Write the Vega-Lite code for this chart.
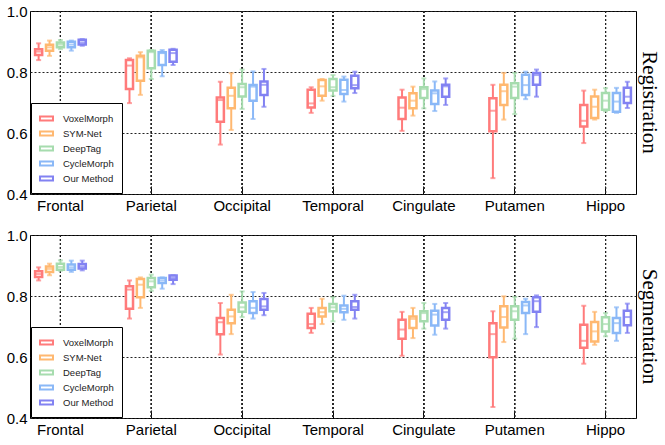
{
  "$schema": "https://vega.github.io/schema/vega-lite/v6.json",
  "padding": {"left": 5, "top": 3, "right": 2, "bottom": 3},
  "spacing": 13,
  "datasets": {
    "reg": [
      {"r": "Frontal", "m": "VoxelMorph", "lo": 0.839, "q1": 0.856, "md": 0.867, "q3": 0.875, "hi": 0.894},
      {"r": "Frontal", "m": "SYM-Net", "lo": 0.853, "q1": 0.870, "md": 0.881, "q3": 0.889, "hi": 0.903},
      {"r": "Frontal", "m": "DeepTag", "lo": 0.875, "q1": 0.881, "md": 0.890, "q3": 0.897, "hi": 0.905},
      {"r": "Frontal", "m": "CycleMorph", "lo": 0.870, "q1": 0.881, "md": 0.890, "q3": 0.899, "hi": 0.903},
      {"r": "Frontal", "m": "Our Method", "lo": 0.886, "q1": 0.890, "md": 0.897, "q3": 0.906, "hi": 0.908},
      {"r": "Parietal", "m": "VoxelMorph", "lo": 0.698, "q1": 0.744, "md": 0.821, "q3": 0.839, "hi": 0.845},
      {"r": "Parietal", "m": "SYM-Net", "lo": 0.725, "q1": 0.771, "md": 0.848, "q3": 0.853, "hi": 0.865},
      {"r": "Parietal", "m": "DeepTag", "lo": 0.777, "q1": 0.812, "md": 0.865, "q3": 0.870, "hi": 0.872},
      {"r": "Parietal", "m": "CycleMorph", "lo": 0.786, "q1": 0.823, "md": 0.862, "q3": 0.865, "hi": 0.872},
      {"r": "Parietal", "m": "Our Method", "lo": 0.823, "q1": 0.834, "md": 0.862, "q3": 0.873, "hi": 0.876},
      {"r": "Occipital", "m": "VoxelMorph", "lo": 0.562, "q1": 0.637, "md": 0.708, "q3": 0.716, "hi": 0.768},
      {"r": "Occipital", "m": "SYM-Net", "lo": 0.610, "q1": 0.681, "md": 0.722, "q3": 0.748, "hi": 0.796},
      {"r": "Occipital", "m": "DeepTag", "lo": 0.679, "q1": 0.720, "md": 0.750, "q3": 0.761, "hi": 0.808},
      {"r": "Occipital", "m": "CycleMorph", "lo": 0.646, "q1": 0.706, "md": 0.752, "q3": 0.757, "hi": 0.802},
      {"r": "Occipital", "m": "Our Method", "lo": 0.686, "q1": 0.725, "md": 0.758, "q3": 0.769, "hi": 0.810},
      {"r": "Temporal", "m": "VoxelMorph", "lo": 0.666, "q1": 0.684, "md": 0.697, "q3": 0.742, "hi": 0.750},
      {"r": "Temporal", "m": "SYM-Net", "lo": 0.706, "q1": 0.722, "md": 0.753, "q3": 0.774, "hi": 0.777},
      {"r": "Temporal", "m": "DeepTag", "lo": 0.722, "q1": 0.739, "md": 0.750, "q3": 0.777, "hi": 0.790},
      {"r": "Temporal", "m": "CycleMorph", "lo": 0.703, "q1": 0.728, "md": 0.741, "q3": 0.775, "hi": 0.785},
      {"r": "Temporal", "m": "Our Method", "lo": 0.731, "q1": 0.747, "md": 0.757, "q3": 0.788, "hi": 0.801},
      {"r": "Cingulate", "m": "VoxelMorph", "lo": 0.607, "q1": 0.646, "md": 0.683, "q3": 0.716, "hi": 0.742},
      {"r": "Cingulate", "m": "SYM-Net", "lo": 0.657, "q1": 0.681, "md": 0.706, "q3": 0.730, "hi": 0.752},
      {"r": "Cingulate", "m": "DeepTag", "lo": 0.681, "q1": 0.715, "md": 0.744, "q3": 0.750, "hi": 0.779},
      {"r": "Cingulate", "m": "CycleMorph", "lo": 0.672, "q1": 0.695, "md": 0.730, "q3": 0.739, "hi": 0.769},
      {"r": "Cingulate", "m": "Our Method", "lo": 0.692, "q1": 0.719, "md": 0.753, "q3": 0.758, "hi": 0.779},
      {"r": "Putamen", "m": "VoxelMorph", "lo": 0.452, "q1": 0.606, "md": 0.673, "q3": 0.714, "hi": 0.758},
      {"r": "Putamen", "m": "SYM-Net", "lo": 0.644, "q1": 0.692, "md": 0.737, "q3": 0.758, "hi": 0.797},
      {"r": "Putamen", "m": "DeepTag", "lo": 0.662, "q1": 0.715, "md": 0.752, "q3": 0.763, "hi": 0.797},
      {"r": "Putamen", "m": "CycleMorph", "lo": 0.711, "q1": 0.725, "md": 0.757, "q3": 0.791, "hi": 0.801},
      {"r": "Putamen", "m": "Our Method", "lo": 0.719, "q1": 0.758, "md": 0.790, "q3": 0.797, "hi": 0.808},
      {"r": "Hippo", "m": "VoxelMorph", "lo": 0.567, "q1": 0.621, "md": 0.640, "q3": 0.692, "hi": 0.739},
      {"r": "Hippo", "m": "SYM-Net", "lo": 0.644, "q1": 0.649, "md": 0.686, "q3": 0.720, "hi": 0.742},
      {"r": "Hippo", "m": "DeepTag", "lo": 0.671, "q1": 0.676, "md": 0.706, "q3": 0.731, "hi": 0.747},
      {"r": "Hippo", "m": "CycleMorph", "lo": 0.666, "q1": 0.670, "md": 0.703, "q3": 0.731, "hi": 0.748},
      {"r": "Hippo", "m": "Our Method", "lo": 0.682, "q1": 0.698, "md": 0.719, "q3": 0.748, "hi": 0.768}
    ],
    "seg": [
      {"r": "Frontal", "m": "VoxelMorph", "lo": 0.851, "q1": 0.862, "md": 0.872, "q3": 0.881, "hi": 0.894},
      {"r": "Frontal", "m": "SYM-Net", "lo": 0.868, "q1": 0.879, "md": 0.889, "q3": 0.897, "hi": 0.906},
      {"r": "Frontal", "m": "DeepTag", "lo": 0.883, "q1": 0.886, "md": 0.895, "q3": 0.906, "hi": 0.917},
      {"r": "Frontal", "m": "CycleMorph", "lo": 0.879, "q1": 0.886, "md": 0.894, "q3": 0.903, "hi": 0.916},
      {"r": "Frontal", "m": "Our Method", "lo": 0.884, "q1": 0.890, "md": 0.897, "q3": 0.905, "hi": 0.916},
      {"r": "Parietal", "m": "VoxelMorph", "lo": 0.726, "q1": 0.758, "md": 0.821, "q3": 0.832, "hi": 0.851},
      {"r": "Parietal", "m": "SYM-Net", "lo": 0.761, "q1": 0.796, "md": 0.837, "q3": 0.856, "hi": 0.861},
      {"r": "Parietal", "m": "DeepTag", "lo": 0.817, "q1": 0.829, "md": 0.848, "q3": 0.859, "hi": 0.870},
      {"r": "Parietal", "m": "CycleMorph", "lo": 0.824, "q1": 0.843, "md": 0.851, "q3": 0.859, "hi": 0.861},
      {"r": "Parietal", "m": "Our Method", "lo": 0.839, "q1": 0.853, "md": 0.859, "q3": 0.867, "hi": 0.868},
      {"r": "Occipital", "m": "VoxelMorph", "lo": 0.608, "q1": 0.675, "md": 0.714, "q3": 0.728, "hi": 0.777},
      {"r": "Occipital", "m": "SYM-Net", "lo": 0.675, "q1": 0.711, "md": 0.733, "q3": 0.755, "hi": 0.804},
      {"r": "Occipital", "m": "DeepTag", "lo": 0.731, "q1": 0.748, "md": 0.763, "q3": 0.779, "hi": 0.815},
      {"r": "Occipital", "m": "CycleMorph", "lo": 0.726, "q1": 0.744, "md": 0.761, "q3": 0.783, "hi": 0.813},
      {"r": "Occipital", "m": "Our Method", "lo": 0.737, "q1": 0.755, "md": 0.766, "q3": 0.790, "hi": 0.810},
      {"r": "Temporal", "m": "VoxelMorph", "lo": 0.679, "q1": 0.695, "md": 0.708, "q3": 0.742, "hi": 0.761},
      {"r": "Temporal", "m": "SYM-Net", "lo": 0.708, "q1": 0.733, "md": 0.747, "q3": 0.761, "hi": 0.791},
      {"r": "Temporal", "m": "DeepTag", "lo": 0.717, "q1": 0.750, "md": 0.763, "q3": 0.774, "hi": 0.796},
      {"r": "Temporal", "m": "CycleMorph", "lo": 0.722, "q1": 0.747, "md": 0.758, "q3": 0.769, "hi": 0.801},
      {"r": "Temporal", "m": "Our Method", "lo": 0.726, "q1": 0.755, "md": 0.764, "q3": 0.783, "hi": 0.804},
      {"r": "Cingulate", "m": "VoxelMorph", "lo": 0.604, "q1": 0.660, "md": 0.690, "q3": 0.722, "hi": 0.748},
      {"r": "Cingulate", "m": "SYM-Net", "lo": 0.662, "q1": 0.695, "md": 0.725, "q3": 0.733, "hi": 0.761},
      {"r": "Cingulate", "m": "DeepTag", "lo": 0.693, "q1": 0.717, "md": 0.744, "q3": 0.750, "hi": 0.777},
      {"r": "Cingulate", "m": "CycleMorph", "lo": 0.673, "q1": 0.703, "md": 0.739, "q3": 0.752, "hi": 0.774},
      {"r": "Cingulate", "m": "Our Method", "lo": 0.693, "q1": 0.722, "md": 0.747, "q3": 0.761, "hi": 0.777},
      {"r": "Putamen", "m": "VoxelMorph", "lo": 0.436, "q1": 0.599, "md": 0.675, "q3": 0.711, "hi": 0.750},
      {"r": "Putamen", "m": "SYM-Net", "lo": 0.649, "q1": 0.697, "md": 0.731, "q3": 0.766, "hi": 0.799},
      {"r": "Putamen", "m": "DeepTag", "lo": 0.660, "q1": 0.722, "md": 0.750, "q3": 0.766, "hi": 0.797},
      {"r": "Putamen", "m": "CycleMorph", "lo": 0.675, "q1": 0.744, "md": 0.769, "q3": 0.780, "hi": 0.791},
      {"r": "Putamen", "m": "Our Method", "lo": 0.698, "q1": 0.748, "md": 0.783, "q3": 0.796, "hi": 0.802},
      {"r": "Hippo", "m": "VoxelMorph", "lo": 0.578, "q1": 0.630, "md": 0.653, "q3": 0.706, "hi": 0.768},
      {"r": "Hippo", "m": "SYM-Net", "lo": 0.640, "q1": 0.651, "md": 0.684, "q3": 0.715, "hi": 0.748},
      {"r": "Hippo", "m": "DeepTag", "lo": 0.668, "q1": 0.684, "md": 0.708, "q3": 0.730, "hi": 0.744},
      {"r": "Hippo", "m": "CycleMorph", "lo": 0.653, "q1": 0.679, "md": 0.711, "q3": 0.728, "hi": 0.763},
      {"r": "Hippo", "m": "Our Method", "lo": 0.679, "q1": 0.704, "md": 0.731, "q3": 0.752, "hi": 0.775}
    ]
  },
  "vconcat": [
    {
      "data": {"name": "reg"},
      "width": 606,
      "height": 183,
      "title": {"text": "Registration", "orient": "right", "offset": 3},
      "encoding": {
        "x": {
          "field": "r", "type": "nominal", "title": null,
          "sort": ["Frontal", "Parietal", "Occipital", "Temporal", "Cingulate", "Putamen", "Hippo"],
          "scale": {"paddingInner": 0.4, "paddingOuter": 0.035}
        }
      },
      "layer": [
        {
          "mark": {"type": "rule", "strokeDash": [2, 2], "strokeWidth": 1, "color": "#222"},
          "encoding": {}
        },
        {
          "mark": {"type": "rule", "strokeWidth": 2},
          "encoding": {
            "xOffset": {"field": "m", "type": "nominal", "sort": ["VoxelMorph", "SYM-Net", "DeepTag", "CycleMorph", "Our Method"], "scale": {"paddingInner": 0.35, "paddingOuter": 0.175}},
            "y": {"field": "lo", "type": "quantitative", "title": null, "scale": {"domain": [0.4, 1.0]}, "axis": {"values": [0.4, 0.6, 0.8, 1.0]}},
            "y2": {"field": "hi"},
            "stroke": {"field": "m", "sort": ["VoxelMorph", "SYM-Net", "DeepTag", "CycleMorph", "Our Method"], "scale": {"domain": ["VoxelMorph", "SYM-Net", "DeepTag", "CycleMorph", "Our Method"], "range": ["#ff7b7b", "#ffb870", "#a6dcae", "#8ab8f7", "#8282f2"]}}
          }
        },
        {
          "mark": {"type": "bar", "fill": "white", "strokeWidth": 2.5},
          "encoding": {
            "xOffset": {"field": "m", "type": "nominal", "sort": ["VoxelMorph", "SYM-Net", "DeepTag", "CycleMorph", "Our Method"]},
            "y": {"field": "q1", "type": "quantitative", "title": null, "axis": {"values": [0.4, 0.6, 0.8, 1.0]}},
            "y2": {"field": "q3"},
            "stroke": {"field": "m", "sort": ["VoxelMorph", "SYM-Net", "DeepTag", "CycleMorph", "Our Method"]}
          }
        },
        {
          "mark": {"type": "tick", "size": 7, "thickness": 2},
          "encoding": {
            "xOffset": {"field": "m", "type": "nominal", "sort": ["VoxelMorph", "SYM-Net", "DeepTag", "CycleMorph", "Our Method"]},
            "y": {"field": "md", "type": "quantitative", "title": null, "axis": {"values": [0.4, 0.6, 0.8, 1.0]}},
            "color": {"field": "m", "legend": null, "scale": {"domain": ["VoxelMorph", "SYM-Net", "DeepTag", "CycleMorph", "Our Method"], "range": ["#ff7b7b", "#ffb870", "#a6dcae", "#8ab8f7", "#8282f2"]}}
          }
        },
        {
          "mark": {"type": "tick", "size": 5, "thickness": 2},
          "encoding": {
            "xOffset": {"field": "m", "type": "nominal", "sort": ["VoxelMorph", "SYM-Net", "DeepTag", "CycleMorph", "Our Method"]},
            "y": {"field": "lo", "type": "quantitative", "title": null, "axis": {"values": [0.4, 0.6, 0.8, 1.0]}},
            "color": {"field": "m", "legend": null}
          }
        },
        {
          "mark": {"type": "tick", "size": 5, "thickness": 2},
          "encoding": {
            "xOffset": {"field": "m", "type": "nominal", "sort": ["VoxelMorph", "SYM-Net", "DeepTag", "CycleMorph", "Our Method"]},
            "y": {"field": "hi", "type": "quantitative", "title": null, "axis": {"values": [0.4, 0.6, 0.8, 1.0]}},
            "color": {"field": "m", "legend": null}
          }
        }
      ]
    },
    {
      "data": {"name": "seg"},
      "width": 606,
      "height": 183,
      "title": {"text": "Segmentation", "orient": "right", "offset": 3},
      "encoding": {
        "x": {
          "field": "r", "type": "nominal", "title": null,
          "sort": ["Frontal", "Parietal", "Occipital", "Temporal", "Cingulate", "Putamen", "Hippo"],
          "scale": {"paddingInner": 0.4, "paddingOuter": 0.035}
        }
      },
      "layer": [
        {
          "mark": {"type": "rule", "strokeDash": [2, 2], "strokeWidth": 1, "color": "#222"},
          "encoding": {}
        },
        {
          "mark": {"type": "rule", "strokeWidth": 2},
          "encoding": {
            "xOffset": {"field": "m", "type": "nominal", "sort": ["VoxelMorph", "SYM-Net", "DeepTag", "CycleMorph", "Our Method"], "scale": {"paddingInner": 0.35, "paddingOuter": 0.175}},
            "y": {"field": "lo", "type": "quantitative", "title": null, "scale": {"domain": [0.4, 1.0]}, "axis": {"values": [0.4, 0.6, 0.8, 1.0]}},
            "y2": {"field": "hi"},
            "stroke": {"field": "m", "sort": ["VoxelMorph", "SYM-Net", "DeepTag", "CycleMorph", "Our Method"], "scale": {"domain": ["VoxelMorph", "SYM-Net", "DeepTag", "CycleMorph", "Our Method"], "range": ["#ff7b7b", "#ffb870", "#a6dcae", "#8ab8f7", "#8282f2"]}}
          }
        },
        {
          "mark": {"type": "bar", "fill": "white", "strokeWidth": 2.5},
          "encoding": {
            "xOffset": {"field": "m", "type": "nominal", "sort": ["VoxelMorph", "SYM-Net", "DeepTag", "CycleMorph", "Our Method"]},
            "y": {"field": "q1", "type": "quantitative", "title": null, "axis": {"values": [0.4, 0.6, 0.8, 1.0]}},
            "y2": {"field": "q3"},
            "stroke": {"field": "m", "sort": ["VoxelMorph", "SYM-Net", "DeepTag", "CycleMorph", "Our Method"]}
          }
        },
        {
          "mark": {"type": "tick", "size": 7, "thickness": 2},
          "encoding": {
            "xOffset": {"field": "m", "type": "nominal", "sort": ["VoxelMorph", "SYM-Net", "DeepTag", "CycleMorph", "Our Method"]},
            "y": {"field": "md", "type": "quantitative", "title": null, "axis": {"values": [0.4, 0.6, 0.8, 1.0]}},
            "color": {"field": "m", "legend": null, "scale": {"domain": ["VoxelMorph", "SYM-Net", "DeepTag", "CycleMorph", "Our Method"], "range": ["#ff7b7b", "#ffb870", "#a6dcae", "#8ab8f7", "#8282f2"]}}
          }
        },
        {
          "mark": {"type": "tick", "size": 5, "thickness": 2},
          "encoding": {
            "xOffset": {"field": "m", "type": "nominal", "sort": ["VoxelMorph", "SYM-Net", "DeepTag", "CycleMorph", "Our Method"]},
            "y": {"field": "lo", "type": "quantitative", "title": null, "axis": {"values": [0.4, 0.6, 0.8, 1.0]}},
            "color": {"field": "m", "legend": null}
          }
        },
        {
          "mark": {"type": "tick", "size": 5, "thickness": 2},
          "encoding": {
            "xOffset": {"field": "m", "type": "nominal", "sort": ["VoxelMorph", "SYM-Net", "DeepTag", "CycleMorph", "Our Method"]},
            "y": {"field": "hi", "type": "quantitative", "title": null, "axis": {"values": [0.4, 0.6, 0.8, 1.0]}},
            "color": {"field": "m", "legend": null}
          }
        }
      ]
    }
  ],
  "resolve": {"legend": {"stroke": "independent"}, "scale": {"x": "independent", "y": "independent"}},
  "config": {
    "font": "Liberation Sans",
    "view": {"stroke": "black", "strokeWidth": 1},
    "title": {"font": "Liberation Serif", "fontSize": 21, "fontWeight": "normal", "color": "black", "anchor": "middle"},
    "axis": {
      "labelFont": "Liberation Sans",
      "labelFontSize": 15,
      "labelColor": "black",
      "domain": false,
      "ticks": false,
      "gridColor": "#222",
      "gridDash": [2, 2],
      "gridWidth": 1,
      "gridOpacity": 1
    },
    "axisX": {"labelAngle": 0, "labelPadding": 12, "grid": false, "ticks": true, "tickSize": -8, "tickColor": "black", "tickWidth": 1},
    "axisY": {"format": ".1f", "labelPadding": 3, "grid": true},
    "legend": {
      "orient": "bottom-left",
      "offset": 1,
      "title": null,
      "symbolType": "M-1,-0.3H1V0.3H-1Z",
      "symbolSize": 169,
      "symbolFillColor": "white",
      "symbolStrokeWidth": 2,
      "labelFont": "Liberation Sans",
      "labelFontSize": 9.5,
      "labelColor": "#222",
      "labelOffset": 9,
      "rowPadding": 1,
      "padding": 8,
      "strokeColor": "black",
      "fillColor": "white",
      "cornerRadius": 0
    }
  }
}
